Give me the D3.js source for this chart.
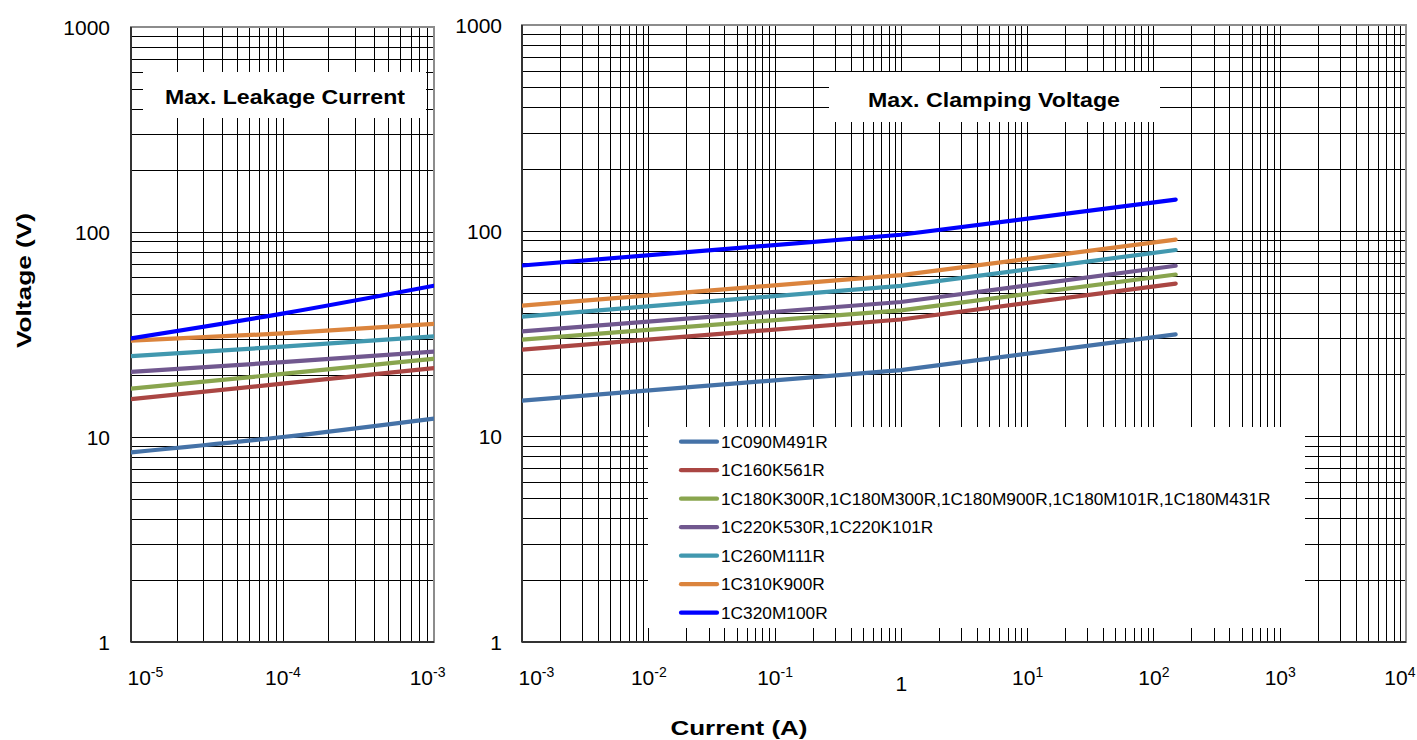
<!DOCTYPE html>
<html>
<head>
<meta charset="utf-8">
<script src="https://cdn.jsdelivr.net/npm/d3@7/dist/d3.min.js"></script>
<style>
  html, body { margin: 0; padding: 0; background: #fff; }
  svg { display: block; font-family: "Liberation Sans", Arial, Helvetica, sans-serif; }
</style>
</head>
<body>
<svg id="chart" width="1417" height="740"></svg>
<script>
// ---------------- DATA ----------------
const seriesNames = [
  "1C090M491R",
  "1C160K561R",
  "1C180K300R,1C180M300R,1C180M900R,1C180M101R,1C180M431R",
  "1C220K530R,1C220K101R",
  "1C260M111R",
  "1C310K900R",
  "1C320M100R"
];
const seriesColors = ["#4572A7", "#AA4643", "#89A54E", "#71588F", "#4198AF", "#DB843D", "#0000FF"];

// Max. Leakage Current panel (current in A)
const leakCurrent = [1e-5, 1e-4, 1e-3];
const leak1C090M491R = [8.42, 10.0, 12.3];
const leak1C160K561R = [15.3, 18.2, 21.7];
const leak1C180 = [17.2, 20.3, 24.1];
const leak1C220 = [20.8, 23.2, 26.1];
const leak1C260M111R = [24.8, 27.6, 31.0];
const leak1C310K900R = [29.5, 32.0, 35.6];
const leak1C320M100R = [30.3, 40.0, 54.7];

// Max. Clamping Voltage panel (current in A)
const clampCurrent = [1e-3, 1, 150];
const clamp1C090M491R = [14.9, 21.0, 31.3];
const clamp1C160K561R = [26.4, 37.0, 55.3];
const clamp1C180 = [29.5, 41.0, 61.2];
const clamp1C220 = [32.4, 45.0, 67.5];
const clamp1C260M111R = [38.2, 53.9, 80.5];
const clamp1C310K900R = [43.2, 60.8, 90.4];
const clamp1C320M100R = [67.7, 95.5, 141.6];

const yTickValues = [1, 10, 100, 1000];
const yTickLabels = ["1", "10", "100", "1000"];
const leakXTicks = [1e-5, 1e-4, 1e-3];
const leakXLabels = [["10", "-5"], ["10", "-4"], ["10", "-3"]];
const clampXTicks = [1e-3, 1e-2, 1e-1, 1, 1e1, 1e2, 1e3, 1e4];
const clampXLabels = [["10", "-3"], ["10", "-2"], ["10", "-1"], ["1", ""], ["10", "1"], ["10", "2"], ["10", "3"], ["10", "4"]];

const leakSeries = [leak1C090M491R, leak1C160K561R, leak1C180, leak1C220, leak1C260M111R, leak1C310K900R, leak1C320M100R];
const clampSeries = [clamp1C090M491R, clamp1C160K561R, clamp1C180, clamp1C220, clamp1C260M111R, clamp1C310K900R, clamp1C320M100R];

// ---------------- DRAW ----------------
const svg = d3.select("#chart");

function gridValues(domain) {
  const out = [];
  const e0 = Math.round(Math.log10(domain[0]));
  const e1 = Math.round(Math.log10(domain[1]));
  for (let e = e0; e <= e1; e++) {
    for (let k = 1; k <= 9; k++) {
      const v = k * Math.pow(10, e);
      if (v >= domain[0] * 0.999 && v <= domain[1] * 1.001) out.push(v);
    }
  }
  return out;
}

function panel(cfg) {
  const x = d3.scaleLog().domain(cfg.xDomain).range(cfg.xRange);
  const y = d3.scaleLog().domain([1, 1000]).range(cfg.yRange);
  const g = svg.append("g");
  const [x0, x1] = cfg.xRange;
  const [yb, yt] = cfg.yRange;

  // grid
  const grid = g.append("g").attr("shape-rendering", "crispEdges").attr("stroke", "#000").attr("stroke-width", 1);
  grid.selectAll("line.v").data(gridValues(cfg.xDomain)).join("line")
    .attr("x1", d => Math.round(x(d)) + 0.5).attr("x2", d => Math.round(x(d)) + 0.5)
    .attr("y1", yt).attr("y2", yb);
  grid.selectAll("line.h").data(gridValues([1, 1000])).join("line")
    .attr("y1", d => Math.round(y(d)) + 0.5).attr("y2", d => Math.round(y(d)) + 0.5)
    .attr("x1", x0).attr("x2", x1);

  // white boxes (title / legend)
  cfg.boxes.forEach(b => {
    g.append("rect").attr("x", b[0]).attr("y", b[1]).attr("width", b[2] - b[0]).attr("height", b[3] - b[1]).attr("fill", "#fff");
  });

  // border
  g.append("rect").attr("x", x0).attr("y", yt).attr("width", x1 - x0).attr("height", yb - yt)
    .attr("fill", "none").attr("stroke", "#8c8c8c").attr("stroke-width", 2);
  g.append("line").attr("x1", x0).attr("x2", x0).attr("y1", yt).attr("y2", yb).attr("stroke", "#333").attr("stroke-width", 2);
  g.append("line").attr("x1", x0).attr("x2", x1).attr("y1", yb).attr("y2", yb).attr("stroke", "#333").attr("stroke-width", 2);

  // y axis labels
  const yAxis = d3.axisLeft(y).tickValues(yTickValues).tickSize(0).tickPadding(cfg.yPad)
    .tickFormat((d, i) => yTickLabels[i]);
  const ya = g.append("g").attr("transform", `translate(${x0},0)`).call(yAxis);
  ya.select(".domain").remove();
  ya.selectAll("text").attr("font-size", 21).attr("fill", "#000")
    .attr("font-family", "'Liberation Sans', Arial, sans-serif").attr("dy", "0.36em");

  // x axis labels
  const xAxis = d3.axisBottom(x).tickValues(cfg.xTicks).tickSize(0).tickFormat("");
  const xa = g.append("g").attr("transform", `translate(0,${yb})`).call(xAxis);
  xa.select(".domain").remove();
  const n = cfg.xTicks.length;
  xa.selectAll(".tick").each(function(d, i) {
    const lab = cfg.xLabels[i];
    const anchor = i === 0 ? "start" : (i === n - 1 ? "end" : "middle");
    const shift = i === 0 ? -4 : (i === n - 1 ? cfg.lastShift : 0);
    const t = d3.select(this).select("text")
      .attr("x", shift)
      .attr("y", lab[1] === "" ? 49 : 43).attr("dy", 0)
      .attr("font-size", 21).attr("fill", "#000").attr("text-anchor", anchor)
      .attr("font-family", "'Liberation Sans', Arial, sans-serif");
    t.append("tspan").text(lab[0]);
    if (lab[1] !== "") t.append("tspan").attr("dy", -8).attr("font-size", 14).text(lab[1]);
  });

  // series lines
  const clipId = "clip" + cfg.id;
  svg.append("clipPath").attr("id", clipId).append("rect")
    .attr("x", x0).attr("y", yt).attr("width", x1 - x0).attr("height", yb - yt);
  const line = d3.line().x(d => x(d[0])).y(d => y(d[1])).curve(cfg.curve);
  const lg = g.append("g").attr("clip-path", `url(#${clipId})`);
  cfg.series.forEach((vals, i) => {
    lg.append("path").datum(cfg.xValues.map((xv, j) => [xv, vals[j]]))
      .attr("d", line).attr("fill", "none").attr("stroke", seriesColors[i])
      .attr("stroke-width", 4.2).attr("stroke-linecap", "round").attr("stroke-linejoin", "round");
  });

  // title
  g.append("text").attr("x", cfg.title.x).attr("y", cfg.title.y)
    .attr("font-size", 21).attr("font-weight", "bold").attr("fill", "#000")
    .attr("textLength", cfg.title.len).attr("lengthAdjust", "spacingAndGlyphs")
    .text(cfg.title.text);
  return {x, y, g};
}

panel({
  id: "L", xDomain: [1e-5, 1e-3], xRange: [131, 434], yRange: [642, 27], yPad: 21,
  xTicks: leakXTicks, xLabels: leakXLabels, xValues: leakCurrent, series: leakSeries,
  curve: d3.curveMonotoneX, lastShift: 11,
  boxes: [[143, 72, 426, 118]],
  title: {text: "Max. Leakage Current", x: 165, y: 103.5, len: 240}
});

panel({
  id: "R", xDomain: [1e-3, 1e4], xRange: [522, 1406], yRange: [642, 25], yPad: 20,
  xTicks: clampXTicks, xLabels: clampXLabels, xValues: clampCurrent, series: clampSeries,
  curve: d3.curveLinear, lastShift: 9,
  boxes: [[829, 72, 1160, 122], [648, 427, 1305, 628]],
  title: {text: "Max. Clamping Voltage", x: 868, y: 106.5, len: 252}
});

// legend
const legend = svg.append("g");
seriesNames.forEach((name, i) => {
  const cy = 441.7 + i * 28.5;
  legend.append("line").attr("x1", 681).attr("x2", 717).attr("y1", cy).attr("y2", cy)
    .attr("stroke", seriesColors[i]).attr("stroke-width", 4.2).attr("stroke-linecap", "round");
  legend.append("text").attr("x", 721).attr("y", cy).attr("dy", "0.36em")
    .attr("font-size", 17.3).attr("fill", "#000").text(name);
});

// axis titles
svg.append("text").attr("transform", "translate(23,280.5) rotate(-90)")
  .attr("text-anchor", "middle").attr("dy", "0.36em")
  .attr("font-size", 21).attr("font-weight", "bold").attr("fill", "#000")
  .attr("textLength", 135).attr("lengthAdjust", "spacingAndGlyphs")
  .text("Voltage (V)");
svg.append("text").attr("x", 670.5).attr("y", 735)
  .attr("font-size", 21).attr("font-weight", "bold").attr("fill", "#000")
  .attr("textLength", 137).attr("lengthAdjust", "spacingAndGlyphs")
  .text("Current (A)");
</script>
</body>
</html>
